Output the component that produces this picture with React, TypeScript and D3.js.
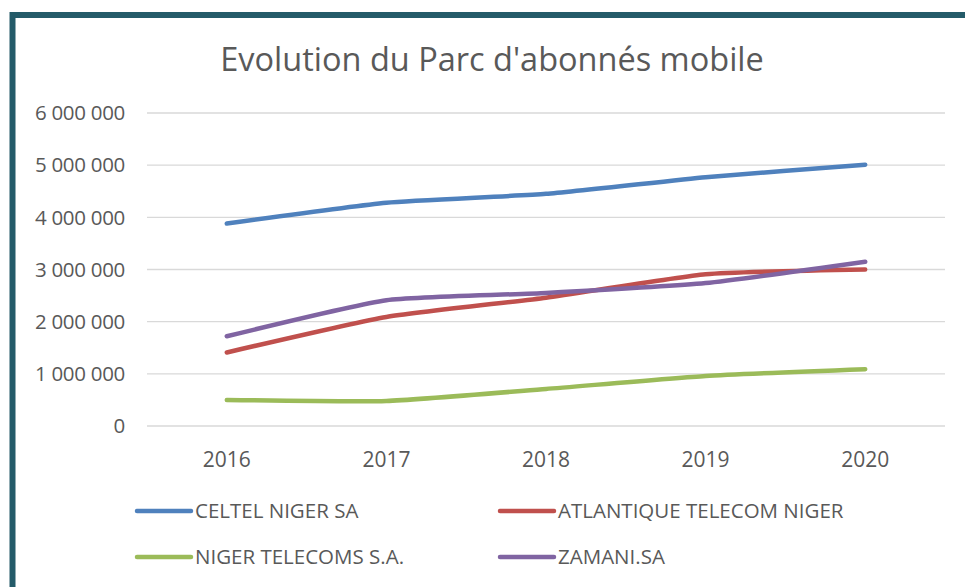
import React from 'react';
import * as d3 from 'd3';

// parc d'abonnés mobile
const years = ['2016', '2017', '2018', '2019', '2020'];
const celtel = [3880000, 4280000, 4450000, 4770000, 5010000];
const atlantique = [1410000, 2090000, 2460000, 2910000, 3000000];
const nigerTelecoms = [500000, 480000, 710000, 960000, 1090000];
const zamani = [1720000, 2410000, 2550000, 2740000, 3150000];
const yTicks = [0, 1000000, 2000000, 3000000, 4000000, 5000000, 6000000];

const series = [
    {name: 'CELTEL NIGER SA', values: celtel, color: '#4F81BD'},
    {name: 'ATLANTIQUE TELECOM NIGER', values: atlantique, color: '#C0504D'},
    {name: 'NIGER TELECOMS S.A.', values: nigerTelecoms, color: '#9BBB59'},
    {name: 'ZAMANI.SA', values: zamani, color: '#8064A2'},
];

const W = 965, H = 587;
const font = '"Open Sans", "Liberation Sans", sans-serif';
const textColor = '#595959';

const App = () => {
    let x = d3.scaleBand().domain(years).range([147, 945]);
    let y = d3.scaleLinear().domain([0, 6000000]).range([426, 113]);
    let fmt = (v: number) => d3.format(',')(v).replace(/,/g, ' ');
    let l = d3.line<number>()
        .x((d, i) => x(years[i])! + x.bandwidth() / 2)
        .y(d => y(d))
        .curve(d3.curveCardinal.tension(0.5));

    let legendPos = [
        {x: 137, y: 511}, {x: 500, y: 511},
        {x: 137, y: 557}, {x: 500, y: 557},
    ];

    return (
        <svg width={W} height={H} style={{position: 'absolute', left: 0, top: 0}} fontFamily={font}>
            <rect x={0} y={0} width={W} height={H} fill="#fff"/>
            <rect x={12.5} y={15} width={W + 20} height={H + 20} fill="none" stroke="#245B69" strokeWidth={6}/>

            <text x={492} y={71} textAnchor="middle" fontSize={32.5} fill={textColor}>
                Evolution du Parc d'abonnés mobile
            </text>

            <g className="grid">
                {yTicks.map((t, i) => <g key={i}>
                    <line x1={147} x2={945} y1={y(t)} y2={y(t)} stroke="#D9D9D9" strokeWidth={1.3}/>
                    <text x={125} y={y(t)} dy="0.35em" textAnchor="end" fontSize={20.5} fill={textColor}
                          letterSpacing={-0.3}>{fmt(t)}</text>
                </g>)}
            </g>

            <g className="x-axis">
                {years.map(yr => <text key={yr} x={x(yr)! + x.bandwidth() / 2} y={467} textAnchor="middle"
                                       fontSize={21} fill={textColor}>{yr}</text>)}
            </g>

            {series.map(s => <path key={s.name} d={l(s.values)!} fill="none" stroke={s.color}
                                   strokeWidth={4.5} strokeLinecap="round"/>)}

            <g className="legend">
                {series.map((s, i) => <g key={s.name} transform={`translate(${legendPos[i].x},${legendPos[i].y})`}>
                    <line x1={0} x2={54} y1={0} y2={0} stroke={s.color} strokeWidth={4.5} strokeLinecap="round"/>
                    <text x={58} y={0} dy="0.35em" fontSize={20.5} fill={textColor}>{s.name}</text>
                </g>)}
            </g>
        </svg>
    );
};

export default App;
